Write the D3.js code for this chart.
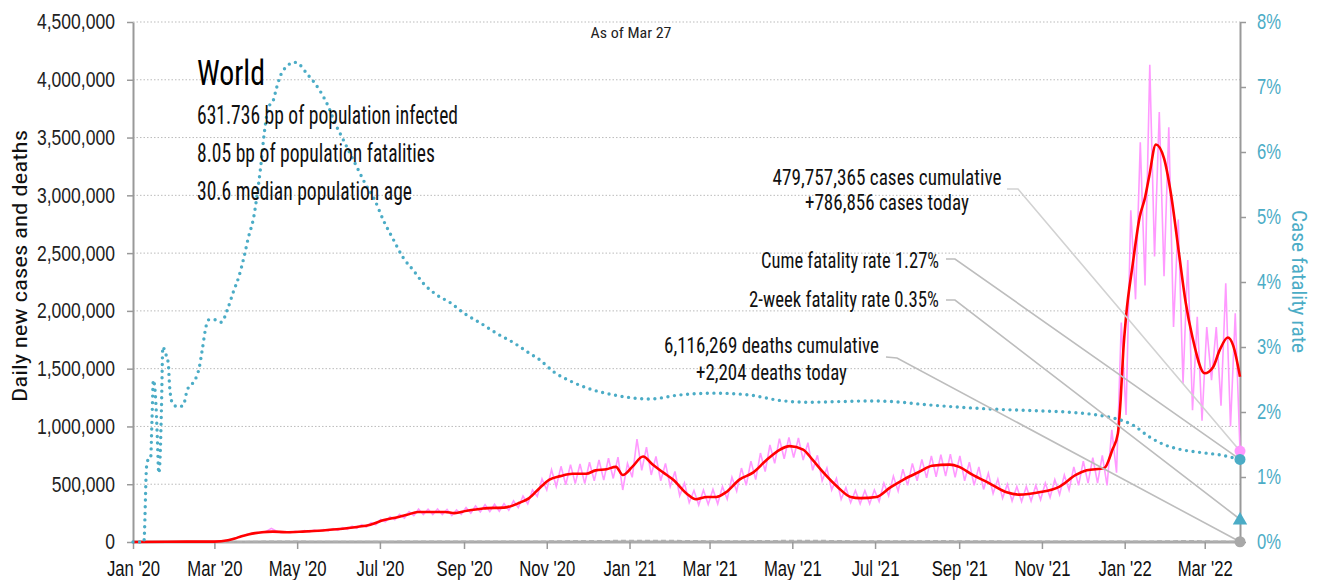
<!DOCTYPE html>
<html>
<head>
<meta charset="utf-8">
<script src="https://cdn.jsdelivr.net/npm/d3@7"></script>
<style>
    body { margin: 0; background: #fff; }
    svg { font-family: "Liberation Sans Narrow", "Arial Narrow", "Roboto Condensed", "DejaVu Sans Condensed", "Liberation Sans", sans-serif; }
</style>
</head>
<body>
<div id="chart-div"></div>
<script>
//---------------------------------//
// Data       //
//---------------------------------//

const endDate = '2022-03-27';

// case fatality rate, % (right axis)
const cfrDates = ['2020-01-01','2020-01-07','2020-01-09','2020-01-11','2020-01-12','2020-01-14','2020-01-15','2020-01-16',
    '2020-01-17','2020-01-18','2020-01-19','2020-01-20','2020-01-21','2020-01-22','2020-01-23','2020-01-25','2020-01-27',
    '2020-01-28','2020-01-30','2020-02-03','2020-02-07','2020-02-10','2020-02-13','2020-02-15','2020-02-19','2020-02-21',
    '2020-02-24','2020-02-26','2020-03-02','2020-03-06','2020-03-11','2020-03-15','2020-03-19','2020-03-23','2020-03-26',
    '2020-03-30','2020-04-02','2020-04-04','2020-04-07','2020-04-10','2020-04-13','2020-04-16','2020-04-19','2020-04-23',
    '2020-04-29','2020-05-03','2020-05-08','2020-05-14','2020-05-19','2020-05-24','2020-05-29','2020-06-03','2020-06-08',
    '2020-06-14','2020-06-20','2020-06-27','2020-07-04','2020-07-11','2020-07-18','2020-07-26','2020-08-02','2020-08-12',
    '2020-08-22','2020-09-01','2020-09-13','2020-09-25','2020-10-08','2020-10-18','2020-10-27','2020-11-06','2020-11-19',
    '2020-12-05','2020-12-21','2021-01-16','2021-02-06','2021-03-05','2021-03-31','2021-04-21','2021-05-12','2021-06-05',
    '2021-06-26','2021-07-14','2021-08-09','2021-09-04','2021-09-30','2021-10-27','2021-11-19','2021-12-13','2021-12-25',
    '2022-01-07','2022-01-19','2022-01-31','2022-02-12','2022-02-25','2022-03-12','2022-03-27'];
const cfrValues = [0, 0, 0, 1.16, 1.26, 1.29, 1.88, 2.49,
    2.39, 2.08, 1.57, 1.06, 1.31, 2.08, 3.0, 2.9, 2.75,
    2.39, 2.14, 2.08, 2.1, 2.34, 2.42, 2.47, 2.7, 2.95,
    3.33, 3.42, 3.42, 3.38, 3.6, 3.85, 4.08, 4.4, 4.68,
    5.0, 5.42, 5.75, 6.33, 6.7, 6.77, 7.0, 7.19, 7.31,
    7.38, 7.34, 7.21, 7.06, 6.9, 6.7, 6.44, 6.23, 6.02,
    5.77, 5.52, 5.27, 4.93, 4.65, 4.38, 4.17, 3.98, 3.8,
    3.68, 3.52, 3.37, 3.21, 3.06, 2.92, 2.8, 2.62, 2.47,
    2.34, 2.26, 2.2, 2.26, 2.29, 2.26, 2.18, 2.15, 2.16,
    2.17, 2.16, 2.11, 2.07, 2.04, 2.02, 2.0, 1.95, 1.9,
    1.8, 1.62, 1.49, 1.42, 1.38, 1.34, 1.27];

// 7-day average of daily new cases
const avgDates = ['2020-01-01','2020-02-10','2020-03-01','2020-03-11','2020-03-16','2020-03-21','2020-03-26','2020-03-31',
    '2020-04-05','2020-04-13','2020-04-23','2020-05-05','2020-05-20','2020-05-30','2020-06-14','2020-06-24','2020-07-04',
    '2020-07-14','2020-07-21','2020-07-29','2020-08-08','2020-08-18','2020-08-25','2020-09-03','2020-09-15','2020-10-02',
    '2020-10-12','2020-10-19','2020-10-27','2020-11-03','2020-11-11','2020-11-20','2020-11-30','2020-12-07','2020-12-15',
    '2020-12-22','2020-12-27','2021-01-03','2021-01-11','2021-01-18','2021-01-26','2021-02-02','2021-02-12','2021-02-19',
    '2021-02-27','2021-03-06','2021-03-13','2021-03-23','2021-04-02','2021-04-12','2021-04-22','2021-04-29','2021-05-09',
    '2021-05-16','2021-05-24','2021-06-03','2021-06-13','2021-06-20','2021-07-02','2021-07-12','2021-07-22','2021-08-03',
    '2021-08-12','2021-08-25','2021-09-01','2021-09-11','2021-09-23','2021-10-06','2021-10-15','2021-10-30','2021-11-14',
    '2021-11-26','2021-12-04','2021-12-17','2021-12-23','2021-12-27','2021-12-29','2021-12-31','2022-01-02','2022-01-07',
    '2022-01-12','2022-01-16','2022-01-19','2022-01-24','2022-01-30','2022-02-04','2022-02-10','2022-02-15','2022-02-20',
    '2022-03-01','2022-03-07','2022-03-12','2022-03-18','2022-03-22','2022-03-27'];
const avgValues = [0, 3000, 3000, 15000, 30000, 50000, 65000, 77000,
    85000, 90000, 85000, 90000, 100000, 110000, 130000, 150000, 190000,
    215000, 235000, 260000, 260000, 260000, 250000, 270000, 290000, 300000,
    340000, 380000, 470000, 540000, 570000, 590000, 590000, 620000, 630000,
    650000, 580000, 650000, 740000, 670000, 600000, 540000, 420000, 370000,
    390000, 390000, 430000, 540000, 600000, 710000, 800000, 830000, 800000,
    710000, 600000, 480000, 390000, 380000, 390000, 470000, 540000, 610000,
    660000, 670000, 650000, 580000, 510000, 430000, 410000, 430000, 480000,
    580000, 620000, 640000, 800000, 940000, 1230000, 1660000, 1950000, 2410000,
    2810000, 2980000, 3160000, 3440000, 3320000, 3020000, 2500000, 2070000, 1770000,
    1460000, 1510000, 1660000, 1770000, 1700000, 1430000];

// daily new cases, thousands, one reading every half week from Mar 1 2020
const dailyStart = '2020-03-01';
const dailyCasesK = [3,8,9,19,25,44,50,68,68,84,
    80,93,118,95,80,90,80,93,84,98,
    88,104,92,108,96,116,100,124,110,138,
    118,150,130,168,150,195,175,218,192,240,
    207,262,228,285,238,284,237,285,237,282,
    230,278,240,298,250,312,260,322,263,327,
    266,332,275,356,297,398,330,450,395,545,
    450,625,480,655,495,670,505,675,505,690,
    530,710,535,725,550,735,450,680,560,890,
    620,820,580,740,530,680,480,610,400,510,
    340,445,320,450,325,455,330,480,370,560,
    440,640,490,700,540,770,610,840,680,895,
    720,905,730,900,710,860,620,750,530,640,
    450,550,370,470,340,445,330,445,330,450,
    350,510,400,570,440,630,490,680,530,715,
    555,745,565,755,570,760,560,745,530,690,
    490,650,455,595,420,545,380,500,355,480,
    350,480,355,490,365,510,385,540,410,580,
    450,650,490,700,510,730,510,750,490,970,
    600,1900,1100,2870,2100,3460,2220,4130,2470,3720,
    2300,3590,1860,2790,1370,2440,1140,1950,1050,1860,
    1400,1860,1180,2240,1000,1980,790];

// 7-day average of daily deaths
const deathDates = ['2020-01-01','2020-03-01','2020-04-01','2020-04-15','2020-05-15','2020-06-15','2020-07-15',
    '2020-08-15','2020-09-15','2020-10-15','2020-11-15','2020-12-15','2021-01-15','2021-02-15','2021-03-15',
    '2021-04-15','2021-05-15','2021-06-15','2021-07-15','2021-08-15','2021-09-15','2021-10-15','2021-11-15',
    '2021-12-15','2022-01-15','2022-02-15','2022-03-15','2022-03-27'];
const deathValues = [0, 60, 4500, 7000, 5000, 4600, 5500, 5900, 5500, 5800, 9500, 11500, 14000, 11000, 8500,
    11500, 12800, 9500, 7800, 10000, 8600, 6900, 7000, 7000, 7000, 10500, 6000, 4000];

// latest values shown with markers
const casesToday = 786856;
const deathsToday = 2204;
const cumeFatality = 1.27;
const twoWeekFatality = 0.35;

// axes
const leftTicks = [0, 500000, 1000000, 1500000, 2000000, 2500000, 3000000, 3500000, 4000000, 4500000];
const rightTicks = [0, 1, 2, 3, 4, 5, 6, 7, 8];
const monthTicks = ['2020-01-01','2020-03-01','2020-05-01','2020-07-01','2020-09-01','2020-11-01',
    '2021-01-01','2021-03-01','2021-05-01','2021-07-01','2021-09-01','2021-11-01','2022-01-01','2022-03-01'];

// texts
const titleText = 'World';
const infoLines = ['631.736 bp of population infected', '8.05 bp of population fatalities', '30.6 median population age'];
const casesLines = ['479,757,365 cases cumulative', '+786,856 cases today'];
const deathsLines = ['6,116,269 deaths cumulative', '+2,204 deaths today'];
const cumeLabel = 'Cume fatality rate 1.27%';
const twoWeekLabel = '2-week fatality rate 0.35%';

//---------------------------------//
// Chart Object                    //
//---------------------------------//

window.Chart = window.Chart || {};

Chart.init = function() {
    Chart.setup.initConsts();
    Chart.setup.initSvg();
    Chart.setup.initScales();

    Chart.draw.grid();
    Chart.draw.axes();
    Chart.draw.series();
    Chart.draw.leaders();
    Chart.draw.markers();
    Chart.draw.texts();
};

Chart.setup = {
    initConsts: function() {
        Chart.width = 1317;
        Chart.height = 580;

        Chart.left = 133;
        Chart.right = 1240;
        Chart.top = 22;
        Chart.bottom = 542;

        Chart.teal = '#4bacc6';
        Chart.pink = '#ff99ff';
        Chart.red = '#ff0000';
        Chart.axisGrey = '#999';
        Chart.ink = '#111';
    },

    initSvg: function() {
        Chart.svg = d3.select('#chart-div')
                      .append('svg')
                        .attr('width', Chart.width)
                        .attr('height', Chart.height);
    },

    initScales: function() {
        Chart.parse = d3.utcParse('%Y-%m-%d');

        Chart.x = d3.scaleUtc()
                    .domain([Chart.parse('2020-01-01'), Chart.parse(endDate)])
                    .range([Chart.left, Chart.right]);
        Chart.yL = d3.scaleLinear()
                     .domain([0, 4500000])
                     .range([Chart.bottom, Chart.top]);
        Chart.yR = d3.scaleLinear()
                     .domain([0, 8])
                     .range([Chart.bottom, Chart.top]);
    },
};

Chart.helpers = {
    fit: function(sel, w) {
        sel.attr('textLength', w).attr('lengthAdjust', 'spacingAndGlyphs');
    },

    // squeeze all tick labels by the ratio found on one reference label
    fitAxis: function(g, refText, refWidth) {
        let texts = g.selectAll('.tick text');
        let ref = texts.filter(function() { return this.textContent === refText; }).node();
        let k = refWidth / ref.getComputedTextLength();
        texts.each(function() {
            let w = this.getComputedTextLength();
            d3.select(this).attr('textLength', w * k).attr('lengthAdjust', 'spacingAndGlyphs');
        });
    },

    zip: function(dates, values) {
        return dates.map((d, i) => ({ date: Chart.parse(d), value: values[i] }));
    },
};

Chart.draw = {
    grid: function() {
        Chart.svg.append('g')
          .selectAll('line')
          .data(leftTicks.filter(d => d > 0))
          .join('line')
            .attr('x1', Chart.left).attr('x2', Chart.right)
            .attr('y1', d => Chart.yL(d)).attr('y2', d => Chart.yL(d))
            .attr('stroke', '#bbb')
            .attr('stroke-width', 1)
            .attr('stroke-dasharray', '1.5,2');
    },

    axes: function() {
        let gl = Chart.svg.append('g')
                   .attr('transform', `translate(${Chart.left},0)`)
                   .call(d3.axisLeft(Chart.yL).tickValues(leftTicks).tickFormat(d3.format(','))
                           .tickSize(6).tickSizeOuter(0).tickPadding(12));
        gl.selectAll('.tick text').attr('font-size', 21.5).attr('fill', '#222');
        Chart.helpers.fitAxis(gl, '4,500,000', 78);

        let gr = Chart.svg.append('g')
                   .attr('transform', `translate(${Chart.right},0)`)
                   .call(d3.axisRight(Chart.yR).tickValues(rightTicks).tickFormat(d => d + '%')
                           .tickSize(6).tickSizeOuter(0).tickPadding(11));
        gr.selectAll('.tick text').attr('font-size', 21.5).attr('fill', Chart.teal);
        Chart.helpers.fitAxis(gr, '8%', 24);

        let gb = Chart.svg.append('g')
                   .attr('transform', `translate(0,${Chart.bottom})`)
                   .call(d3.axisBottom(Chart.x).tickValues(monthTicks.map(Chart.parse))
                           .tickFormat(d3.utcFormat("%b '%y"))
                           .tickSize(7).tickSizeOuter(0).tickPadding(12));
        gb.selectAll('.tick text').attr('font-size', 21.5).attr('fill', '#111');
        Chart.helpers.fitAxis(gb, "Nov '20", 56);

        [gl, gr, gb].forEach(g => {
            g.select('.domain').attr('stroke', Chart.axisGrey).attr('stroke-width', 2);
            g.selectAll('.tick line').attr('stroke', Chart.axisGrey).attr('stroke-width', 1.5);
        });
        gb.select('.domain').attr('stroke', '#aaa').attr('stroke-width', 3);
        gb.select('.domain').attr('d', `M${Chart.left},0H${Chart.right}`);
    },

    series: function() {
        let daily = dailyCasesK.map((v, i) => ({
            date: d3.utcHour.offset(Chart.parse(dailyStart), 84 * i),
            value: v * 1000
        }));
        let avg = Chart.helpers.zip(avgDates, avgValues);
        let deaths = Chart.helpers.zip(deathDates, deathValues);
        let cfr = Chart.helpers.zip(cfrDates, cfrValues);

        let lineL = d3.line().x(d => Chart.x(d.date)).y(d => Chart.yL(d.value));
        let smoothL = d3.line().x(d => Chart.x(d.date)).y(d => Chart.yL(d.value)).curve(d3.curveMonotoneX);
        let smoothR = d3.line().x(d => Chart.x(d.date)).y(d => Chart.yR(d.value)).curve(d3.curveMonotoneX);

        // deaths hug the baseline
        Chart.svg.append('path')
            .attr('d', smoothL(deaths))
            .attr('fill', 'none')
            .attr('stroke', '#b0b0b0')
            .attr('stroke-width', 1.5)
            .attr('stroke-dasharray', '5,3');

        Chart.svg.append('path')
            .attr('d', lineL(daily))
            .attr('fill', 'none')
            .attr('stroke', Chart.pink)
            .attr('stroke-width', 1.6);

        Chart.svg.append('path')
            .attr('d', smoothL(avg))
            .attr('fill', 'none')
            .attr('stroke', Chart.red)
            .attr('stroke-width', 2.6);

        Chart.svg.append('path')
            .attr('d', smoothR(cfr))
            .attr('fill', 'none')
            .attr('stroke', Chart.teal)
            .attr('stroke-width', 3.4)
            .attr('stroke-linecap', 'round')
            .attr('stroke-dasharray', '0,6.6');
    },

    leaders: function() {
        let xe = Chart.x(Chart.parse(endDate));
        let leaders = [
            { from: [1007, 189], elbow: [1018, 189], to: [xe, Chart.yL(casesToday)], color: '#d2d2d2' },
            { from: [946, 259], elbow: [955, 259], to: [xe, Chart.yR(cumeFatality)], color: '#bdbdbd' },
            { from: [946, 300], elbow: [955, 300], to: [xe, Chart.yR(twoWeekFatality)], color: '#bdbdbd' },
            { from: [886, 357], elbow: [897, 358], to: [xe, Chart.yL(deathsToday)], color: '#bdbdbd' },
        ];
        Chart.svg.append('g')
          .selectAll('polyline')
          .data(leaders)
          .join('polyline')
            .attr('points', d => [d.from, d.elbow, d.to].map(p => p.join(',')).join(' '))
            .attr('fill', 'none')
            .attr('stroke', d => d.color)
            .attr('stroke-width', 1.6);
    },

    markers: function() {
        let xe = Chart.x(Chart.parse(endDate));

        Chart.svg.append('circle')
            .attr('cx', xe).attr('cy', Chart.yL(casesToday)).attr('r', 5.5)
            .attr('fill', Chart.pink);
        Chart.svg.append('circle')
            .attr('cx', xe).attr('cy', Chart.yR(cumeFatality)).attr('r', 5.5)
            .attr('fill', Chart.teal);
        Chart.svg.append('path')
            .attr('d', d3.symbol().type(d3.symbolTriangle).size(90)())
            .attr('transform', `translate(${xe},${Chart.yR(twoWeekFatality) + 1})`)
            .attr('fill', Chart.teal);
        Chart.svg.append('circle')
            .attr('cx', xe).attr('cy', Chart.yL(deathsToday)).attr('r', 5.5)
            .attr('fill', '#a8a8a8');
    },

    texts: function() {
        let svg = Chart.svg;

        svg.append('text')
            .attr('x', 631).attr('y', 38)
            .attr('text-anchor', 'middle')
            .attr('font-size', 15.5).attr('fill', '#222')
            .text('As of Mar 27')
            .call(Chart.helpers.fit, 81);

        svg.append('text')
            .attr('x', 197).attr('y', 85)
            .attr('font-size', 35).attr('fill', '#000')
            .text(titleText)
            .call(Chart.helpers.fit, 68);

        let infoWidths = [261, 238, 215];
        svg.append('g')
          .selectAll('text')
          .data(infoLines)
          .join('text')
            .attr('x', 197)
            .attr('y', (d, i) => 123.5 + i * 38)
            .attr('font-size', 25.5).attr('fill', Chart.ink)
            .text(d => d)
            .each(function(d, i) { Chart.helpers.fit(d3.select(this), infoWidths[i]); });

        let casesWidths = [229, 164];
        svg.append('g')
          .selectAll('text')
          .data(casesLines)
          .join('text')
            .attr('x', 887)
            .attr('y', (d, i) => 185 + i * 25)
            .attr('text-anchor', 'middle')
            .attr('font-size', 22).attr('fill', Chart.ink)
            .text(d => d)
            .each(function(d, i) { Chart.helpers.fit(d3.select(this), casesWidths[i]); });

        svg.append('text')
            .attr('x', 939).attr('y', 268)
            .attr('text-anchor', 'end')
            .attr('font-size', 22).attr('fill', Chart.ink)
            .text(cumeLabel)
            .call(Chart.helpers.fit, 178);

        svg.append('text')
            .attr('x', 939).attr('y', 306.5)
            .attr('text-anchor', 'end')
            .attr('font-size', 22).attr('fill', Chart.ink)
            .text(twoWeekLabel)
            .call(Chart.helpers.fit, 190);

        let deathsWidths = [215, 151];
        svg.append('g')
          .selectAll('text')
          .data(deathsLines)
          .join('text')
            .attr('x', 771.5)
            .attr('y', (d, i) => 353 + i * 27)
            .attr('text-anchor', 'middle')
            .attr('font-size', 22).attr('fill', Chart.ink)
            .text(d => d)
            .each(function(d, i) { Chart.helpers.fit(d3.select(this), deathsWidths[i]); });

        // axis titles
        svg.append('text')
            .attr('transform', 'translate(27,266) rotate(-90)')
            .attr('text-anchor', 'middle')
            .attr('font-size', 19.5).attr('fill', '#111')
            .text('Daily new cases and deaths')
            .call(Chart.helpers.fit, 272);

        svg.append('text')
            .attr('transform', 'translate(1292,281.5) rotate(90)')
            .attr('text-anchor', 'middle')
            .attr('font-size', 19.5).attr('fill', Chart.teal)
            .text('Case fatality rate')
            .call(Chart.helpers.fit, 143);
    },
};

document.addEventListener('DOMContentLoaded', Chart.init);
</script>
</body>
</html>
